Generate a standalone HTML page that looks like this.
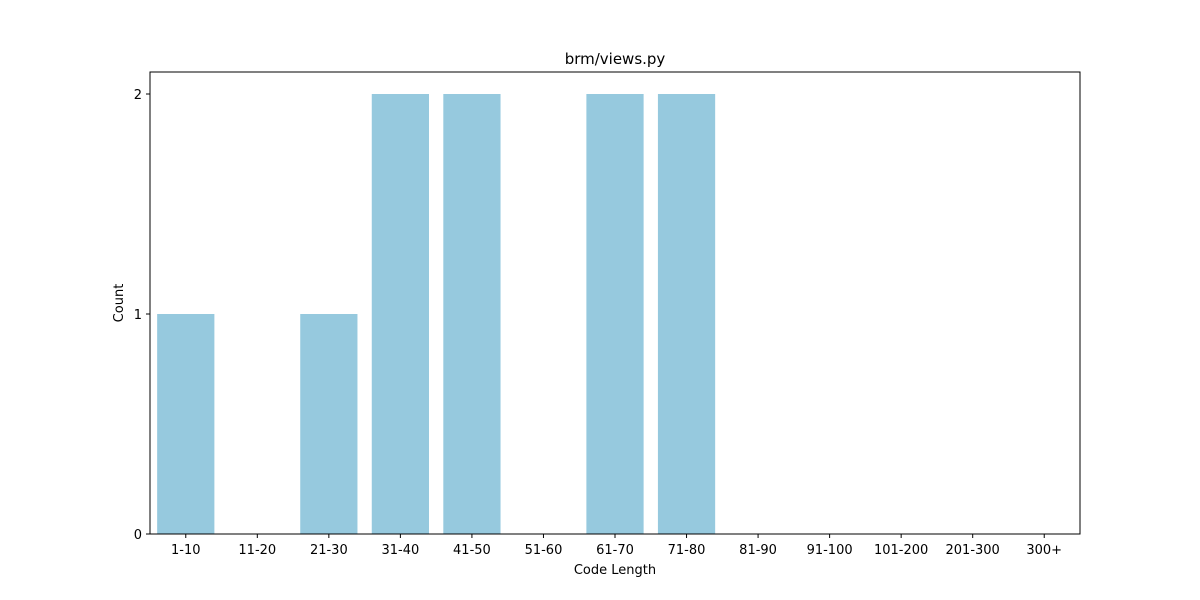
<!DOCTYPE html>
<html><head><meta charset="utf-8"><style>
body{margin:0;background:#fff;}
svg{display:block;font-family:"DejaVu Sans","Liberation Sans",sans-serif;}
</style></head><body>
<svg id="chart" width="1200" height="600">
<rect width="1200" height="600" fill="#fff"/>
<text x="615" y="64" font-size="15" text-anchor="middle" fill="#000">brm/views.py</text>
<g id="bars"></g>
<rect x="150" y="72" width="930" height="462" fill="none" stroke="#000" stroke-width="1"/>
<g id="xticks"></g><g id="yticks"></g>
<text x="615" y="574" font-size="13" text-anchor="middle">Code Length</text>
<text x="123" y="303" font-size="13" text-anchor="middle" transform="rotate(-90 123 303)">Count</text>
</svg>
<script>
const categories=["1-10","11-20","21-30","31-40","41-50","51-60","61-70","71-80","81-90","91-100","101-200","201-300","300+"];
const counts=[1,0,1,2,2,0,2,2,0,0,0,0,0];
const yTicks=[0,1,2];
const X0=150,X1=1080,Y0=534,Y1=72,YMAX=2.1;
const NS="http://www.w3.org/2000/svg";
const band=(X1-X0)/categories.length;
const xc=i=>X0+band*(i+0.5);
const y=v=>Y0-(Y0-Y1)*v/YMAX;
const bars=document.getElementById('bars'),xt=document.getElementById('xticks'),yt=document.getElementById('yticks');
categories.forEach((c,i)=>{
 const r=document.createElementNS(NS,'rect');
 r.setAttribute('x',xc(i)-band*0.4);r.setAttribute('width',band*0.8);
 r.setAttribute('y',y(counts[i]));r.setAttribute('height',Y0-y(counts[i]));
 r.setAttribute('fill','#96c9de');
 
 
 bars.appendChild(r);
 const l=document.createElementNS(NS,'line');
 l.setAttribute('x1',xc(i));l.setAttribute('x2',xc(i));l.setAttribute('y1',Y0);l.setAttribute('y2',Y0+4);l.setAttribute('stroke','#000');
 
 
 xt.appendChild(l);
 const t=document.createElementNS(NS,'text');
 t.setAttribute('x',xc(i));t.setAttribute('y',Y0+20);t.setAttribute('font-size','13');t.setAttribute('text-anchor','middle');
 t.textContent=c;
 
 
 xt.appendChild(t);
});
yTicks.forEach(v=>{
 const l=document.createElementNS(NS,'line');
 l.setAttribute('x1',X0-4);l.setAttribute('x2',X0);l.setAttribute('y1',y(v));l.setAttribute('y2',y(v));l.setAttribute('stroke','#000');
 
 
 yt.appendChild(l);
 const t=document.createElementNS(NS,'text');
 t.setAttribute('x',X0-8);t.setAttribute('y',y(v)+5);t.setAttribute('font-size','13');t.setAttribute('text-anchor','end');
 t.textContent=v;
 
 
 yt.appendChild(t);
});
</script>
</body></html>
